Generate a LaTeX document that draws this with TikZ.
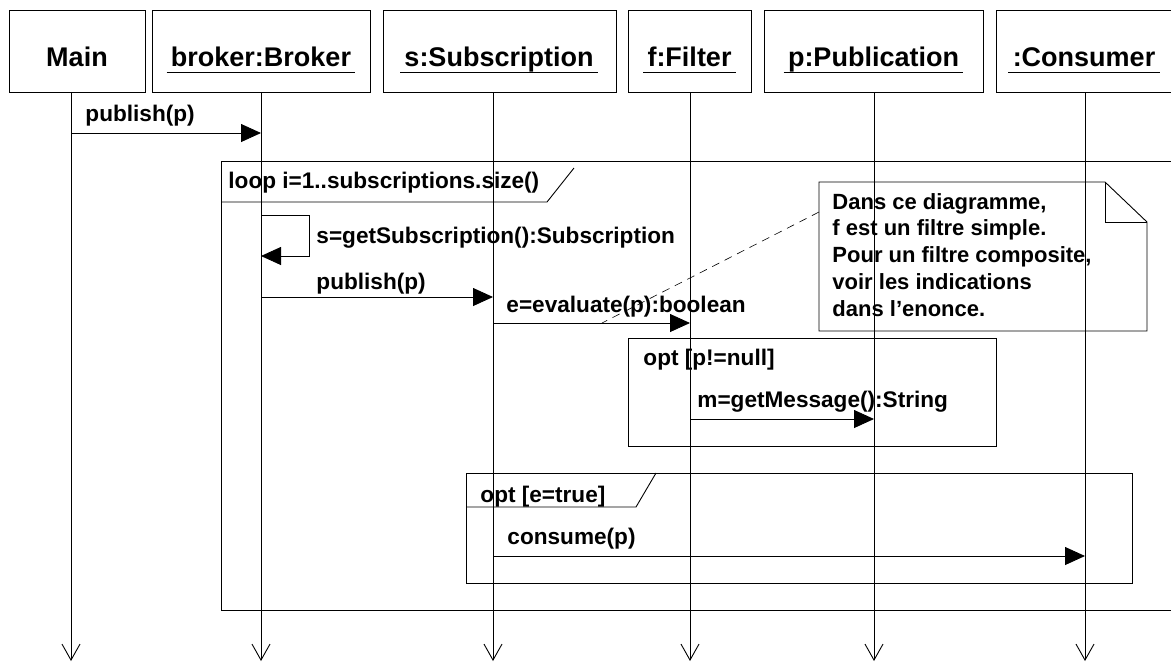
\documentclass[tikz,border=0pt]{standalone}
\usepackage{fontspec}
\setmainfont{Liberation Sans}
\usetikzlibrary{arrows.meta}

\begin{document}
\begin{tikzpicture}[
    x=1pt, y=-1pt,          % 1pt = 1px, 下向きに y
    line width=0.9pt,
    font=\bfseries\fontsize{22.6}{26}\selectfont,
    head/.style={draw, rectangle, minimum height=82pt, inner sep=0pt},
    headtext/.style={font=\bfseries\fontsize{27}{32}\selectfont, inner sep=0pt, anchor=base},
    msg/.style={-{Triangle[length=20pt, width=18pt]}},
    life/.style={-{Straight Barb[length=16pt, width=18pt]}},
    msgtext/.style={anchor=base west, inner sep=0pt},
    notetext/.style={font=\bfseries\fontsize{22}{26.75}\selectfont, align=left, inner sep=0pt, anchor=base west}
]

    \useasboundingbox (0,0) rectangle (1171,662);
    \clip (0,0) rectangle (1171,662);

    % --- オブジェクト ---
    \node [head, minimum width=136pt] (main)   at (77,51)    {};
    \node [head, minimum width=218pt] (broker) at (261,51)   {};
    \node [head, minimum width=233pt] (subs)   at (499.5,51) {};
    \node [head, minimum width=123pt] (filt)   at (689.5,51) {};
    \node [head, minimum width=219pt] (pub)    at (873.5,51) {};
    \node [head, minimum width=176pt] (cons)   at (1084,51)  {};

    \node [headtext] (tmain)   at (77,66)    {Main};
    \node [headtext] (tbroker) at (261,66)   {broker:Broker};
    \node [headtext] (tsubs)   at (499,66)   {s:Subscription};
    \node [headtext] (tfilt)   at (689.5,66) {f:Filter};
    \node [headtext] (tpub)    at (873.5,66) {p:Publication};
    \node [headtext] (tcons)   at (1084,66)  {:Consumer};
    \foreach \n in {broker, subs, filt, pub, cons}
        \draw ([xshift=-4pt, yshift=-6pt]t\n.base west) -- ([xshift=4pt, yshift=-6pt]t\n.base east);

    % --- ライフライン ---
    \coordinate (endmain)   at (71,661);
    \coordinate (endbroker) at (261,661);
    \coordinate (endsubs)   at (493,661);
    \coordinate (endfilt)   at (690,661);
    \coordinate (endpub)    at (874,661);
    \coordinate (endcons)   at (1085,661);
    \foreach \n in {main, broker, subs, filt, pub, cons}
        \draw [life] (\n.south -| end\n) -- (end\n);

    % --- publish(p) ---
    \coordinate (pa) at (71,133);
    \coordinate (pb) at (261,133);
    \draw [msg] (pa) -- (pb);
    \node [msgtext] (lpa) at (85,121) {publish(p)};

    % --- loop ---
    \draw (221,161) rectangle (1190,610);
    \draw (221,202) -- (547,202) -- (574,168);
    \node [msgtext] (lloop) at (228,188) {loop i=1..subscriptions.size()};

    % 自己呼び出し
    \coordinate (sa) at (261,215);
    \coordinate (sb) at (261,256);
    \draw [msg] (sa) -- (309,215) -- (309,256) -- (sb);
    \node [msgtext] (lsa) at (316,243) {s=getSubscription():Subscription};

    \coordinate (qa) at (261,297);
    \coordinate (qb) at (493,297);
    \draw [msg] (qa) -- (qb);
    \node [msgtext] (lqa) at (316,289) {publish(p)};

    \coordinate (ea) at (493,323);
    \coordinate (eb) at (690,323);
    \draw [msg] (ea) -- (eb);
    \node [msgtext] (lea) at (506,312) {e=evaluate(p):boolean};

    % --- ノート ---
    \draw (819,182) -- (1105,182) -- (1147,222) -- (1147,331) -- (819,331) -- cycle;
    \draw (1105,182) -- (1105,222) -- (1147,222);
    \node [notetext] (note) at (832,316) {Dans ce diagramme,\\f est un filtre simple.\\Pour un filtre composite,\\voir les indications\\dans l’enonce.};
    \coordinate (nanchor) at (819,212);
    \coordinate (ntarget) at (602,323);
    \draw [dash pattern=on 8pt off 6pt, line width=0.6pt] (nanchor) -- (ntarget);

    % --- opt [p!=null] ---
    \draw (628,338) rectangle (996,446);
    \node [msgtext] (lopt1) at (643,365) {opt [p!=null]};
    \coordinate (ma) at (690,419);
    \coordinate (mb) at (874,419);
    \draw [msg] (ma) -- (mb);
    \node [msgtext] (lma) at (697,407) {m=getMessage():String};

    % --- opt [e=true] ---
    \draw (466,473) rectangle (1132,583);
    \draw (466,507) -- (636,507) -- (656,473);
    \node [msgtext] (lopt2) at (480,502) {opt [e=true]};
    \coordinate (ca) at (493,556);
    \coordinate (cb) at (1085,556);
    \draw [msg] (ca) -- (cb);
    \node [msgtext] (lca) at (507,544) {consume(p)};

\end{tikzpicture}
\end{document}
